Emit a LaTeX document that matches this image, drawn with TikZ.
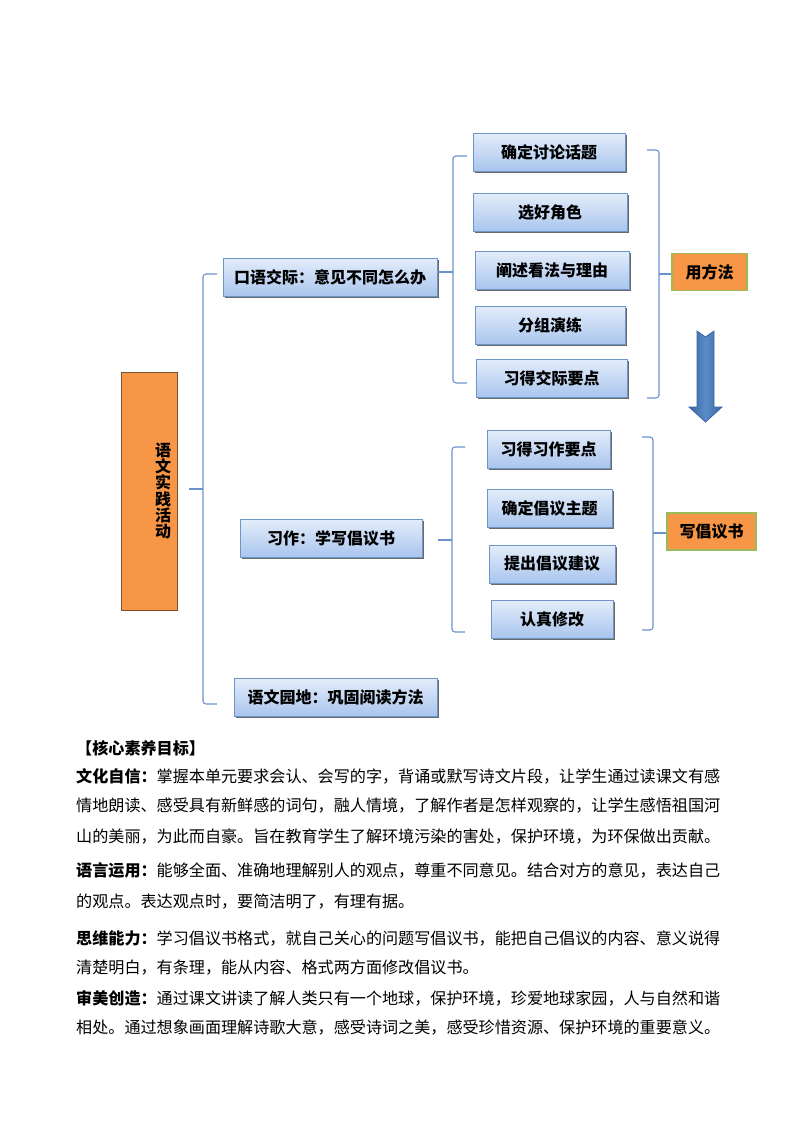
\documentclass[tikz,border=0pt]{standalone}
\usepackage{fontspec}
\setmainfont{Noto Sans CJK SC}
\usetikzlibrary{shadows,calc}
\definecolor{brc}{HTML}{6A93CB}
\definecolor{boxtop}{HTML}{E4EDFA}
\definecolor{boxbot}{HTML}{A9C5EE}
\definecolor{boxborder}{HTML}{6F94C6}
\definecolor{orfill}{HTML}{F79646}
\definecolor{rootborder}{HTML}{7A5230}
\definecolor{grborder}{HTML}{9BBB59}
\definecolor{arrtop}{HTML}{5A8CC8}
\definecolor{arrbot}{HTML}{3A67A3}
\begin{document}
\begin{tikzpicture}[x=1pt,y=-1pt,
  bluebox/.style={draw=boxborder, line width=0.8pt, top color=boxtop, bottom color=boxbot,
    font=\bfseries\fontsize{16}{16}\selectfont, inner sep=0pt, minimum height=38pt,
    drop shadow={shadow xshift=2pt, shadow yshift=-2pt, fill=black!65, opacity=0.9}},
  orbox/.style={draw=grborder, line width=1.2pt, fill=orfill, inner sep=0pt,
    font=\bfseries\fontsize{16}{16}\selectfont, minimum height=37pt},
  br/.style={draw=brc, line width=1.1pt, rounded corners=3pt},
  body/.style={anchor=west, inner sep=0pt, font=\fontsize{16.1}{16.1}\selectfont},
]
\useasboundingbox (0,0) rectangle (800,1132);

% root
\node[draw=rootborder, line width=0.9pt, fill=orfill, minimum width=56pt, minimum height=238pt, inner sep=0pt] (root) at (149,491) {};
\node[font=\bfseries\fontsize{16}{16.2}\selectfont, align=center, inner sep=0pt] (roottext) at (163,491) {语\\文\\实\\践\\活\\动};

% level 1
\node[bluebox, minimum width=214pt] (b1) at (330,277) {口语交际：意见不同怎么办};
\node[bluebox, minimum width=182pt] (b2) at (331,538) {习作：学写倡议书};
\node[bluebox, minimum width=203pt] (b3) at (335.5,697) {语文园地：巩固阅读方法};

% group 1
\node[bluebox, minimum width=152pt] (g1a) at (549,152) {确定讨论话题};
\node[bluebox, minimum width=154pt] (g1b) at (550,212) {选好角色};
\node[bluebox, minimum width=154pt] (g1c) at (552,270) {阐述看法与理由};
\node[bluebox, minimum width=150pt] (g1d) at (550,325) {分组演练};
\node[bluebox, minimum width=151pt] (g1e) at (551.5,378) {习得交际要点};

% group 2
\node[bluebox, minimum width=123pt] (g2a) at (548.5,449) {习得习作要点};
\node[bluebox, minimum width=125pt] (g2b) at (549.5,508) {确定倡议主题};
\node[bluebox, minimum width=126pt] (g2c) at (552,564) {提出倡议建议};
\node[bluebox, minimum width=122pt] (g2d) at (552,619) {认真修改};

% summary boxes
\node[orbox, minimum width=75pt] (yff) at (709.5,272) {用方法};
\node[orbox, minimum width=89pt] (xcy) at (711.5,531.5) {写倡议书};

% level-1 bracket
\coordinate (r0) at (189,489);
\coordinate (r1) at (203,489);
\draw[br] (r0) -- (r1);
\draw[br] (217,274) -- (203,274) -- (203,704) -- (217,704);

% group 1 brackets
\coordinate (p1) at (453,272);
\draw[br] ($(p1 -| b1.east)+(1,0)$) -- (p1);
\draw[br] (467,156) -- (453,156) -- (453,383) -- (467,383);
\coordinate (q1) at (659,274);
\draw[br] (647,150) -- (659,150) -- (659,398) -- (647,398);
\draw[br] (q1) -- (q1 -| yff.west);

% group 2 brackets
\coordinate (p2a) at (438,540);
\coordinate (p2) at (452,540);
\draw[br] (p2a) -- (p2);
\draw[br] (465,447) -- (452,447) -- (452,632) -- (465,632);
\coordinate (q2) at (653,533);
\draw[br] (642,437) -- (653,437) -- (653,630) -- (642,630);
\draw[br] (q2) -- (q2 -| xcy.west);

% big down arrow
\path[draw=arrbot, line width=0.8pt, left color=arrbot, right color=arrbot, middle color=arrtop]
  (697,331) -- (705.5,337) -- (714,331) -- (714,407) -- (722,407) -- (705.5,422)
  -- (689,407) -- (697,407) -- cycle;

% text block
\node[body] (h) at (76,748) {\bfseries 【核心素养目标】};
\node[body] (l1) at (76,776) {{\bfseries 文化自信：}掌握本单元要求会认、会写的字，背诵或默写诗文片段，让学生通过读课文有感};
\node[body] (l2) at (76,806) {情地朗读、感受具有新鲜感的词句，融人情境，了解作者是怎样观察的，让学生感悟祖国河};
\node[body] (l3) at (76,837) {山的美丽，为此而自豪。旨在教育学生了解环境污染的害处，保护环境，为环保做出贡献。};
\node[body] (l4) at (76,870) {{\bfseries 语言运用：}能够全面、准确地理解别人的观点，尊重不同意见。结合对方的意见，表达自己};
\node[body] (l5) at (76,902) {的观点。表达观点时，要简洁明了，有理有据。};
\node[body] (l6) at (76,938) {{\bfseries 思维能力：}学习倡议书格式，就自己关心的问题写倡议书，能把自己倡议的内容、意义说得};
\node[body] (l7) at (76,968) {清楚明白，有条理，能从内容、格式两方面修改倡议书。};
\node[body] (l8) at (76,998) {{\bfseries 审美创造：}通过课文讲读了解人类只有一个地球，保护环境，珍爱地球家园，人与自然和谐};
\node[body] (l9) at (76,1028) {相处。通过想象画面理解诗歌大意，感受诗词之美，感受珍惜资源、保护环境的重要意义。};
\end{tikzpicture}
\end{document}
